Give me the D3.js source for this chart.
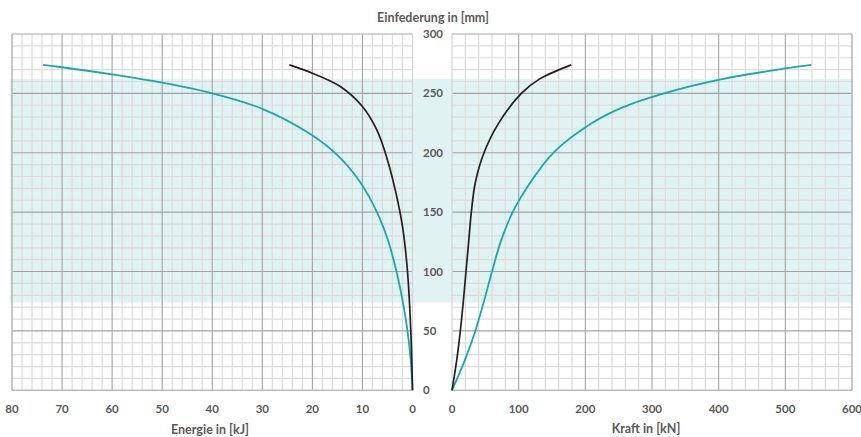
<!DOCTYPE html>
<html>
<head>
<meta charset="utf-8">
<script src="https://cdn.jsdelivr.net/npm/d3@7"></script>
<style>
  body { margin: 0; background: #fff; }
  text { font-family: Lato, "Open Sans", sans-serif; font-weight: bold; fill: #595959; }
</style>
</head>
<body>
<div id="chart"></div>
<script>
// data
const energyTicks = [80, 70, 60, 50, 40, 30, 20, 10, 0];
const forceTicks = [0, 100, 200, 300, 400, 500, 600];
const depthTicks = [0, 50, 100, 150, 200, 250, 300];
const bandRange = [74, 262];

// energy (kJ) vs depth (mm)
const energyTealMm = [0, 25, 50, 75, 100, 125, 150, 175, 198, 216, 237, 250, 259, 266, 272, 274];
const energyTealKJ = [0, 0.35, 1.0, 1.95, 3.2, 4.8, 7.1, 10.4, 15, 20.5, 30, 40, 50, 60, 70, 73.8];
const energyBlackMm = [0, 48, 100, 138, 166, 194, 219, 239, 256, 267, 274];
const energyBlackKJ = [0, 0.32, 1.0, 2.0, 3.3, 5.0, 7.1, 10, 14.5, 20, 24.6];

// force (kN) vs depth (mm)
const forceTealMm = [0, 25, 50, 75, 100, 125, 150, 175, 200, 225, 238, 250, 262, 271, 274];
const forceTealKN = [0, 19, 35, 48, 60, 73, 91, 117.5, 152, 210, 255, 318, 405, 500, 539];
const forceBlackMm = [0, 25, 50, 75, 100, 125, 150, 175, 200, 225, 250, 262, 274];
const forceBlackKN = [0, 7, 12.5, 17, 21, 25, 29, 35, 48, 70, 104, 131, 179];

const width = 861, height = 437;
const svg = d3.select('#chart').append('svg')
  .attr('width', width).attr('height', height);

const xLeft = d3.scaleLinear().domain([80, 0]).range([12, 412.5]);
const xRight = d3.scaleLinear().domain([0, 600]).range([452, 852]);
const y = d3.scaleLinear().domain([0, 300]).range([390.3, 34]);

// highlighted band across both panels
svg.append('rect')
  .attr('x', 10).attr('width', 843)
  .attr('y', y(bandRange[1]))
  .attr('height', y(bandRange[0]) - y(bandRange[1]))
  .attr('fill', '#e0f2f1');

const minorColor = '#dcdcdc', majorColor = '#a3a3a3';

function drawGrid(xs, minorStep, majorStep) {
  const g = svg.append('g');
  const [d0, d1] = xs.domain();
  const lo = Math.min(d0, d1), hi = Math.max(d0, d1);
  const xr = xs.range();
  const xMin = Math.min(...xr), xMax = Math.max(...xr);
  const vMinor = d3.range(lo, hi + 0.001, minorStep).filter(v => v % majorStep !== 0);
  const vMajor = d3.range(lo + majorStep, hi, majorStep);
  const hMinor = d3.range(0, 301, 10).filter(v => v % 50 !== 0);
  const hMajor = d3.range(50, 300, 50);

  g.selectAll('.vmin').data(vMinor).enter().append('line')
    .attr('x1', d => xs(d)).attr('x2', d => xs(d))
    .attr('y1', y(300)).attr('y2', y(0))
    .attr('stroke', minorColor).attr('stroke-width', 1.2);
  g.selectAll('.hmin').data(hMinor).enter().append('line')
    .attr('x1', xMin).attr('x2', xMax)
    .attr('y1', d => y(d)).attr('y2', d => y(d))
    .attr('stroke', minorColor).attr('stroke-width', 1.2);
  g.selectAll('.vmaj').data(vMajor).enter().append('line')
    .attr('x1', d => xs(d)).attr('x2', d => xs(d))
    .attr('y1', y(300)).attr('y2', y(0))
    .attr('stroke', majorColor).attr('stroke-width', 1.1);
  g.selectAll('.hmaj').data(hMajor).enter().append('line')
    .attr('x1', xMin).attr('x2', xMax)
    .attr('y1', d => y(d)).attr('y2', d => y(d))
    .attr('stroke', majorColor).attr('stroke-width', 1.1);

  // frame
  g.append('line').attr('x1', xMin).attr('x2', xMax).attr('y1', y(300)).attr('y2', y(300))
    .attr('stroke', '#c4c4c4').attr('stroke-width', 1.3);
  g.append('line').attr('x1', xMin).attr('x2', xMax).attr('y1', y(0)).attr('y2', y(0))
    .attr('stroke', '#bcbcbc').attr('stroke-width', 1.5);
  g.append('line').attr('x1', xs(d0 === 0 ? d1 : d0)).attr('x2', xs(d0 === 0 ? d1 : d0))
    .attr('y1', y(300)).attr('y2', y(0))
    .attr('stroke', '#b4b4b4').attr('stroke-width', 1.5);
  g.append('line').attr('x1', xs(0)).attr('x2', xs(0))
    .attr('y1', y(300)).attr('y2', y(0))
    .attr('stroke', '#d4d4d4').attr('stroke-width', 1.2);
}

drawGrid(xLeft, 2, 10);
drawGrid(xRight, 20, 100);

// curves
function drawCurve(xs, vals, mms, color, w) {
  const pts = mms.map((m, i) => [vals[i], m]);
  const line = d3.line()
    .x(d => xs(d[0]))
    .y(d => y(d[1]))
    .curve(d3.curveCatmullRom.alpha(0.5));
  svg.append('path')
    .attr('d', line(pts))
    .attr('fill', 'none')
    .attr('stroke', color)
    .attr('stroke-width', w);
}

drawCurve(xLeft, energyTealKJ, energyTealMm, '#17aaaa', 1.8);
drawCurve(xLeft, energyBlackKJ, energyBlackMm, '#231f20', 1.7);
drawCurve(xRight, forceTealKN, forceTealMm, '#17aaaa', 1.8);
drawCurve(xRight, forceBlackKN, forceBlackMm, '#231f20', 1.7);

// tick labels
const fs = 11.5, tfs = 12.5;
svg.selectAll('.ylab').data(depthTicks).enter().append('text')
  .attr('x', 423).attr('y', d => y(d)).attr('dy', '0.35em')
  .attr('font-size', fs)
  .text(d => d);

svg.selectAll('.xlabL').data(energyTicks).enter().append('text')
  .attr('x', d => xLeft(d)).attr('y', 409).attr('dy', '0.35em')
  .attr('text-anchor', 'middle').attr('font-size', fs)
  .text(d => d);

svg.selectAll('.xlabR').data(forceTicks).enter().append('text')
  .attr('x', d => xRight(d)).attr('y', 409).attr('dy', '0.35em')
  .attr('text-anchor', 'middle').attr('font-size', fs)
  .text(d => d);

// titles
svg.append('text').attr('x', 433).attr('y', 18).attr('dy', '0.35em')
  .attr('text-anchor', 'middle').attr('font-size', tfs)
  .text('Einfederung in [mm]');
svg.append('text').attr('x', 210).attr('y', 430).attr('dy', '0.35em')
  .attr('text-anchor', 'middle').attr('font-size', tfs)
  .text('Energie in [kJ]');
svg.append('text').attr('x', 646).attr('y', 429).attr('dy', '0.35em')
  .attr('text-anchor', 'middle').attr('font-size', tfs)
  .text('Kraft in [kN]');
</script>
</body>
</html>
